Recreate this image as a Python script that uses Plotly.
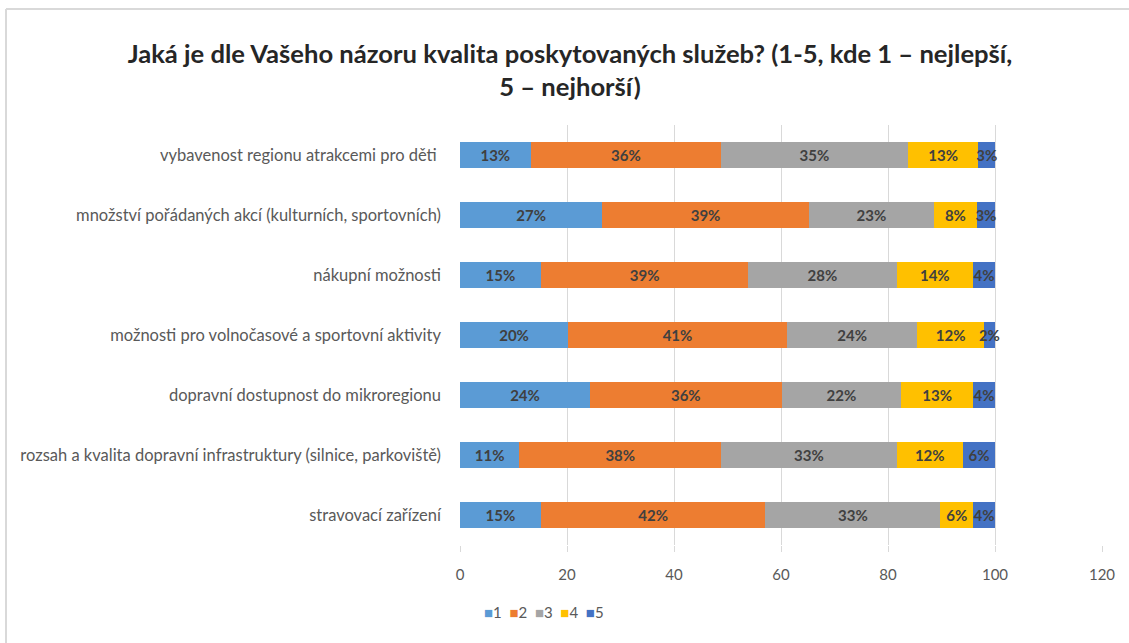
import plotly.graph_objects as go

categories = [
    "vybavenost regionu atrakcemi pro děti\u00a0",
    "množství pořádaných akcí (kulturních, sportovních)",
    "nákupní možnosti",
    "možnosti pro volnočasové a sportovní aktivity",
    "dopravní dostupnost do mikroregionu",
    "rozsah a kvalita dopravní infrastruktury (silnice, parkoviště)",
    "stravovací zařízení",
]
series_names = ["1", "2", "3", "4", "5"]
s1 = [13.2, 26.6, 15.1, 20.2, 24.3, 11.1, 15.1]
s2 = [35.6, 38.6, 38.8, 40.9, 35.8, 37.7, 42.0]
s3 = [34.9, 23.4, 27.7, 24.4, 22.4, 32.8, 32.7]
s4 = [13.2, 8.0, 14.3, 12.4, 13.4, 12.4, 6.1]
s5 = [3.1, 3.4, 4.1, 2.1, 4.1, 6.0, 4.1]
labels1 = ["13%", "27%", "15%", "20%", "24%", "11%", "15%"]
labels2 = ["36%", "39%", "39%", "41%", "36%", "38%", "42%"]
labels3 = ["35%", "23%", "28%", "24%", "22%", "33%", "33%"]
labels4 = ["13%", "8%", "14%", "12%", "13%", "12%", "6%"]
labels5 = ["3%", "3%", "4%", "2%", "4%", "6%", "4%"]
x_ticks = [0, 20, 40, 60, 80, 100, 120]
title_text = "Jaká je dle Vašeho názoru kvalita poskytovaných služeb? (1-5, kde 1 – nejlepší,<br>5 – nejhorší)"

colors = ["#5B9BD5", "#ED7D31", "#A5A5A5", "#FFC000", "#4472C4"]
values = [s1, s2, s3, s4, s5]
texts = [labels1, labels2, labels3, labels4, labels5]

W, H = 1129, 643
ML, MR, MT, MB = 460, 27, 125, 98

fig = go.Figure()
for name, vals, txt, col in zip(series_names, values, texts, colors):
    fig.add_trace(go.Bar(
        y=categories, x=vals, name=name, orientation="h",
        marker=dict(color=col, line=dict(width=0)),
        text=txt, textposition="inside", insidetextanchor="middle", textangle=0,
        textfont=dict(family="Lato", size=15, color="#404040", weight="bold"),
        cliponaxis=False, showlegend=False,
        hoverinfo="skip",
    ))

pw = W - ML - MR
ph = H - MT - MB
def px_x(p):
    return (p - ML) / pw
def px_y(p):
    return (H - MB - p) / ph

fig.add_shape(type="line", xref="paper", yref="paper",
              x0=px_x(6), x1=px_x(1129), y0=px_y(9), y1=px_y(9),
              line=dict(color="#D9D9D9", width=2))
fig.add_shape(type="line", xref="paper", yref="paper",
              x0=px_x(6), x1=px_x(6), y0=px_y(9), y1=px_y(643),
              line=dict(color="#D9D9D9", width=2))

legend_html = "&nbsp;&nbsp;".join(
    f"<span style='color:{c}'>■</span>{n}" for n, c in zip(series_names, colors)
)
fig.add_annotation(text=legend_html, xref="paper", yref="paper",
                   x=px_x(482), xanchor="left", y=px_y(612), yanchor="middle",
                   showarrow=False,
                   font=dict(family="Lato", size=15, color="#595959"))

fig.update_layout(
    width=W, height=H,
    barmode="stack",
    bargap=0.58,
    plot_bgcolor="white", paper_bgcolor="white",
    margin=dict(l=ML, r=MR, t=MT, b=MB, autoexpand=False),
    title=dict(text=title_text, x=570 / W, xref="container", xanchor="center",
               y=1 - 63 / H, yanchor="middle", yref="container",
               font=dict(family="Lato", size=25.6, color="#262626", weight="bold")),
    uniformtext=dict(minsize=15, mode="show"),
    showlegend=False,
    xaxis=dict(range=[0, 120], tickvals=x_ticks, showgrid=True, gridcolor="#D9D9D9",
               gridwidth=1, zeroline=False, showline=False,
               ticks="outside", ticklen=6, tickcolor="#D9D9D9",
               ticklabelstandoff=10,
               tickfont=dict(family="Lato", size=15, color="#595959")),
    yaxis=dict(autorange="reversed", showgrid=False, zeroline=False, showline=False,
               ticks="", ticklabelstandoff=18,
               tickfont=dict(family="Lato", size=16.5, color="#595959")),
)

fig.write_html("out.html", config={"displayModeBar": False},
               post_script="document.body.style.margin='0';document.body.style.padding='0';document.body.style.overflow='hidden';")
